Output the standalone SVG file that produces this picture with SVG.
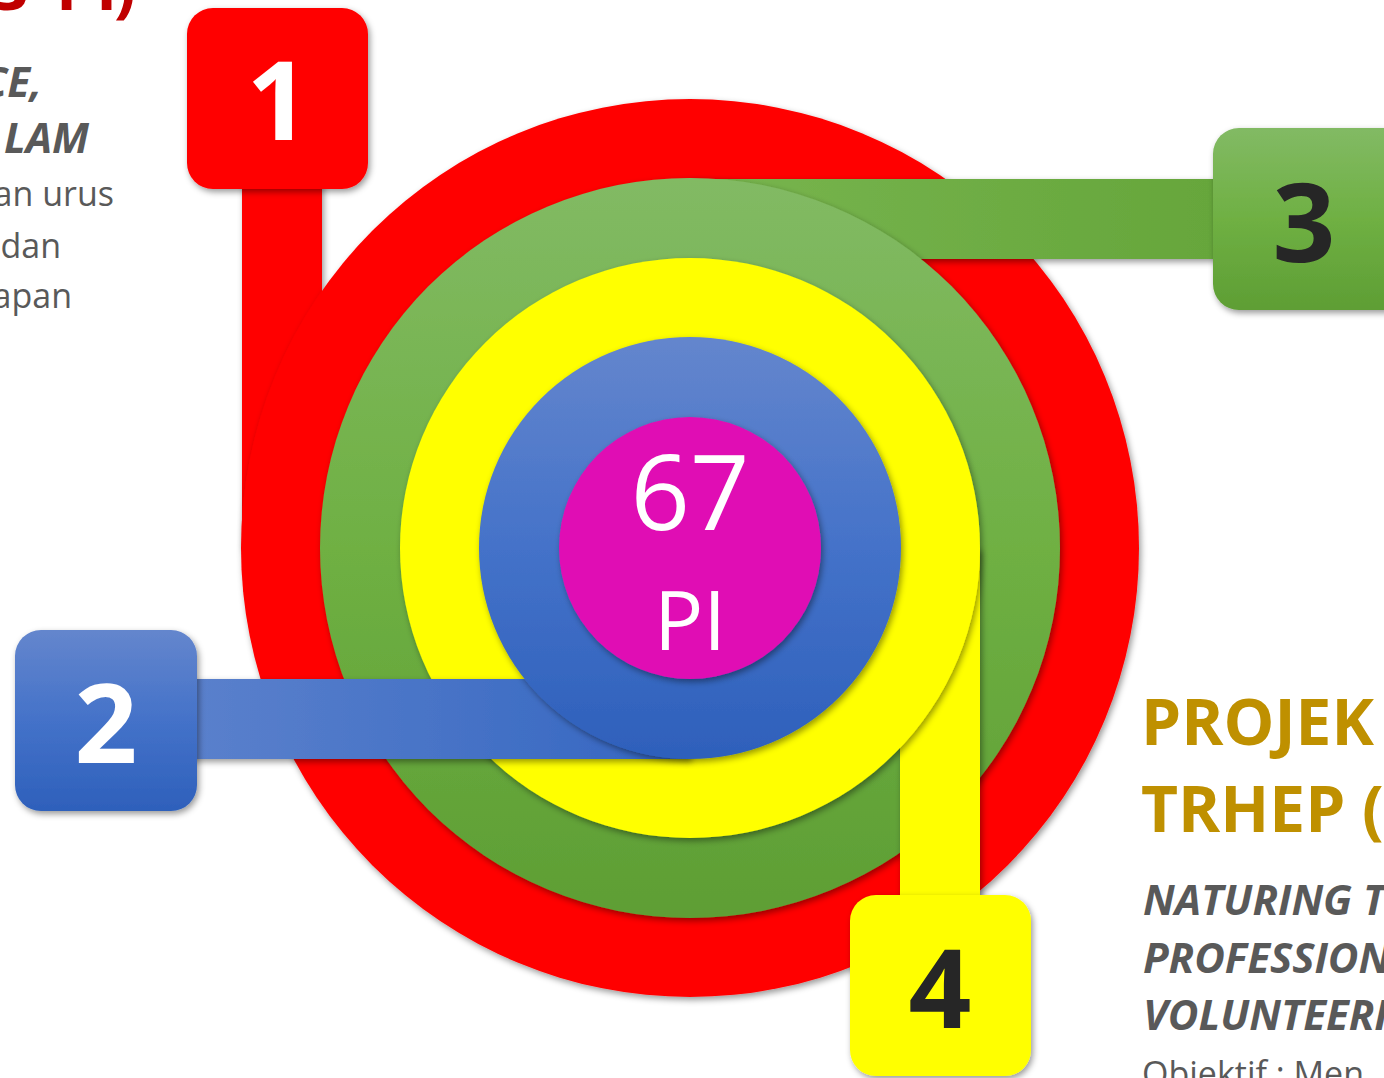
<svg xmlns="http://www.w3.org/2000/svg" width="1384" height="1078" viewBox="0 0 1384 1078">
<defs>
<filter id="sh" x="-10%" y="-10%" width="130%" height="130%">
<feDropShadow dx="2" dy="3" stdDeviation="3" flood-color="#000" flood-opacity="0.4"/>
</filter>
<linearGradient id="gV" x1="0" y1="0" x2="0" y2="1">
<stop offset="0" stop-color="#82ba64"/><stop offset="0.5" stop-color="#6fb043"/><stop offset="1" stop-color="#5e9e34"/>
</linearGradient>
<linearGradient id="gH" gradientUnits="userSpaceOnUse" x1="690" y1="0" x2="1213" y2="0">
<stop offset="0" stop-color="#78b54f"/><stop offset="1" stop-color="#66a63b"/>
</linearGradient>
<linearGradient id="bV" x1="0" y1="0" x2="0" y2="1">
<stop offset="0" stop-color="#6486cd"/><stop offset="0.5" stop-color="#4472c9"/><stop offset="1" stop-color="#2e60bb"/>
</linearGradient>
<linearGradient id="bH" gradientUnits="userSpaceOnUse" x1="197" y1="0" x2="690" y2="0">
<stop offset="0" stop-color="#5a80cc"/><stop offset="1" stop-color="#3466c1"/>
</linearGradient>
<style>
.box{filter:url(#sh)}
.ring{filter:url(#sh)}
.bar{filter:url(#sh)}
.num{font-family:"Open Sans","Noto Sans","DejaVu Sans",sans-serif;font-weight:700;font-size:110px;text-anchor:middle}
.head{font-family:"Open Sans","Noto Sans","DejaVu Sans",sans-serif;font-weight:700;font-size:64px}
.bi{font-family:"Open Sans","Noto Sans","DejaVu Sans",sans-serif;font-weight:700;font-style:italic;font-size:42px;fill:#595959}
.body{font-family:"Open Sans","Noto Sans","DejaVu Sans",sans-serif;font-size:34px;fill:#595959}
.ctr{font-family:"Open Sans","Noto Sans","DejaVu Sans",sans-serif;fill:#fff;text-anchor:middle}
</style>
</defs>
<rect width="1384" height="1078" fill="#fff"/>

<g id="text-left">
<text class="head" fill="#c00000" y="10" x="-8 28 56 96 114">3 PI)</text>
<text class="bi" x="42" y="97" text-anchor="end">CE,</text>
<text class="bi" x="89" y="153" text-anchor="end">LAM</text>
<text class="body" x="114" y="206" text-anchor="end">an urus</text>
<text class="body" x="61" y="258" text-anchor="end">dan</text>
<text class="body" x="72" y="308" text-anchor="end">apan</text>
</g>

<g id="text-right">
<text class="head" fill="#bf9000" x="1141" y="745">PROJEK</text>
<text class="head" fill="#bf9000" x="1141" y="832">TRHEP (</text>
<text class="bi" x="1143" y="915">NATURING T</text>
<text class="bi" x="1143" y="973">PROFESSION</text>
<text class="bi" x="1143" y="1030">VOLUNTEERI</text>
<text class="body" x="1142" y="1086" font-size="36">Objektif : Men</text>
</g>

<g id="ring-1">
<rect class="bar connector" x="242" y="180" width="80" height="368" fill="#ff0000"/>
<circle class="ring" cx="690" cy="548" r="449" fill="#ff0000"/>
</g>
<g id="ring-3">
<rect class="bar connector" x="690" y="179" width="540" height="80" fill="url(#gH)"/>
<circle class="ring" cx="690" cy="548" r="370" fill="url(#gV)"/>
</g>
<g id="ring-4">
<rect class="bar connector" x="900" y="548" width="80" height="360" fill="#ffff00"/>
<circle class="ring" cx="690" cy="548" r="290" fill="#ffff00"/>
</g>
<g id="ring-2">
<rect class="bar connector" x="180" y="679" width="510" height="80" fill="url(#bH)"/>
<circle class="ring" cx="690" cy="548" r="211" fill="url(#bV)"/>
</g>
<g id="center">
<circle class="ring" cx="690" cy="548" r="131" fill="#e010b4"/>
<text class="ctr" x="690" y="530" font-size="104">67</text>
<text class="ctr" x="690" y="650" font-size="82">PI</text>
</g>

<g id="node-1">
<rect class="box" x="187" y="8" width="181" height="181" rx="26" fill="#ff0000"/>
<text class="num" x="278" y="140" fill="#fff">1</text>
</g>
<g id="node-2">
<rect class="box" x="15" y="630" width="182" height="181" rx="26" fill="url(#bV)"/>
<text class="num" x="106" y="763" fill="#fff">2</text>
</g>
<g id="node-3">
<rect class="box" x="1213" y="128" width="200" height="182" rx="26" fill="url(#gV)"/>
<text class="num" x="1304" y="262" fill="#262626">3</text>
</g>
<g id="node-4">
<rect class="box" x="850" y="895" width="181" height="181" rx="26" fill="#ffff00"/>
<text class="num" x="940" y="1028" fill="#262626">4</text>
</g>
</svg>
